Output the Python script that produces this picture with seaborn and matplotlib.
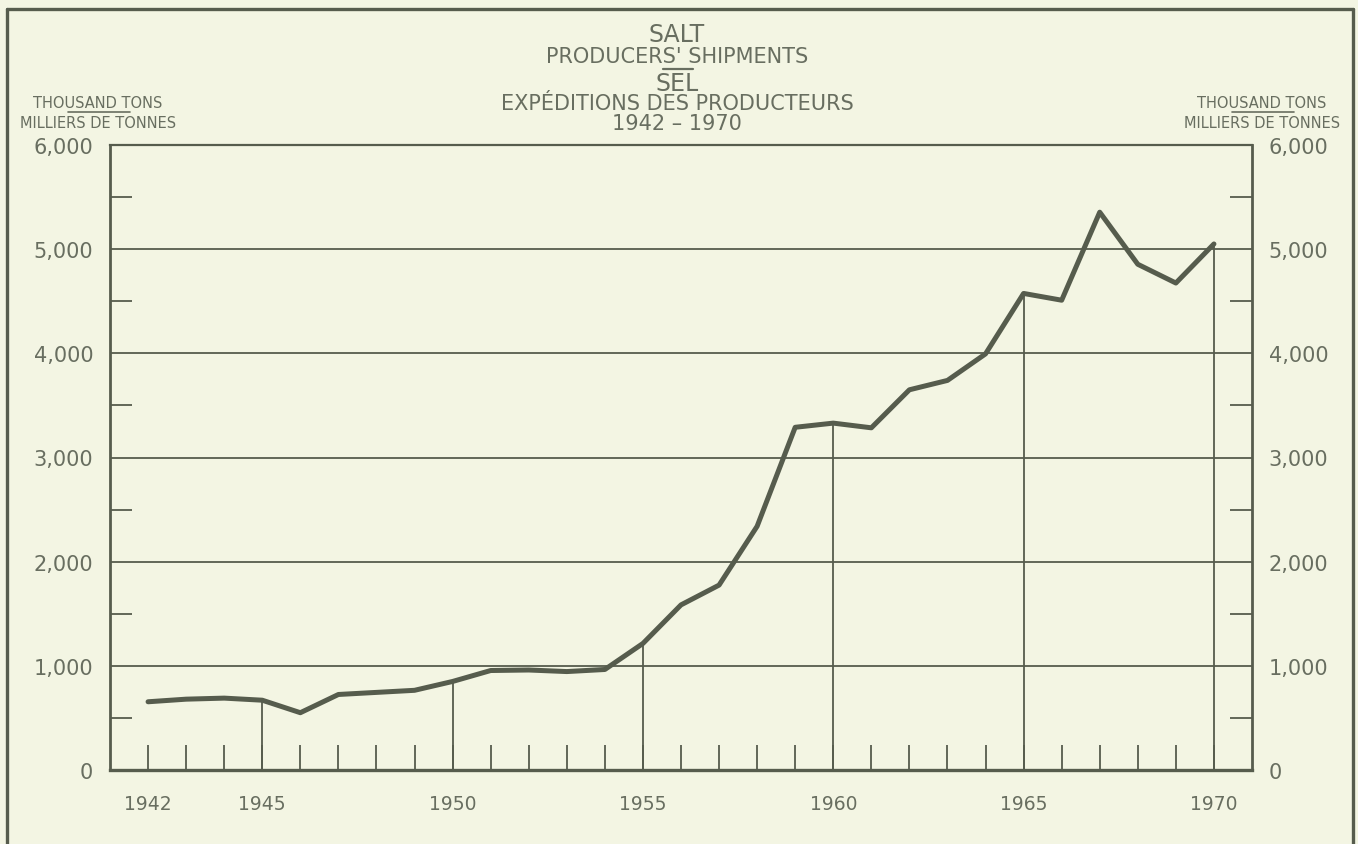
import matplotlib
matplotlib.use("Agg")
import matplotlib.pyplot as plt
import seaborn as sns
import pandas as pd
from matplotlib.ticker import FuncFormatter, MultipleLocator
from matplotlib.lines import Line2D

# -------------------------------
# Data (thousand tons)
# -------------------------------
years = list(range(1942, 1971))
shipments = [655, 680, 690, 670, 550, 725, 745, 765, 850, 955,
             960, 945, 965, 1215, 1585, 1775, 2340, 3290, 3330, 3285,
             3650, 3740, 3995, 4575, 4510, 5355, 4855, 4675, 5050]
year_labels = [1942, 1945, 1950, 1955, 1960, 1965, 1970]
y_ticks = [0, 1000, 2000, 3000, 4000, 5000, 6000]

df = pd.DataFrame({"year": years, "tons": shipments})

# -------------------------------
# Style
# -------------------------------
bg = "#f3f5e3"
ink = "#565c4d"
txt = "#686e60"

sns.set_style("white", {"axes.facecolor": bg, "figure.facecolor": bg})
plt.rcParams['font.family'] = ['DejaVu Sans']
plt.rcParams['text.color'] = txt

fig = plt.figure(figsize=(13.58, 8.45), dpi=100)
ax = fig.add_axes([110 / 1358, 74 / 845, 1142 / 1358, 625 / 845])

# gridlines at each thousand
for v in y_ticks[1:-1]:
    ax.axhline(v, color=ink, lw=1.3, zorder=1)

# drop lines every 5 years, up to the curve
for yr, v in zip(years, shipments):
    if yr in year_labels and yr != 1942:
        ax.vlines(yr, 0, v, color=ink, lw=1.3, zorder=1)

sns.lineplot(data=df, x="year", y="tons", color=ink, lw=3.6, ax=ax, zorder=3)

ax.set_xlim(1941.0, 1971.0)
ax.set_ylim(0, 6000)
ax.set_xlabel("")
ax.set_ylabel("")

for s in ax.spines.values():
    s.set_color(ink)
ax.spines['bottom'].set_linewidth(2.4)
ax.spines['left'].set_linewidth(2.0)
ax.spines['right'].set_linewidth(2.0)
ax.spines['top'].set_linewidth(1.6)

# x ticks: every year, labels only on some
ax.set_xticks(years)
ax.xaxis.set_major_formatter(FuncFormatter(lambda v, p: str(int(v)) if int(v) in year_labels else ""))
ax.tick_params(axis='x', bottom=True, direction='in', length=18, width=1.3, color=ink,
               labelsize=13.5, labelcolor=txt, pad=17)

# y ticks: labels at thousands, short ticks at the halves
ax.set_yticks(y_ticks)
ax.yaxis.set_minor_locator(MultipleLocator(500))
ax.yaxis.set_major_formatter(FuncFormatter(lambda v, p: f"{int(v):,}"))
ax.tick_params(axis='y', which='major', length=0, labelsize=15, labelcolor=txt,
               left=True, right=True, labelleft=True, labelright=True, pad=12)
ax.tick_params(axis='y', which='minor', direction='in', length=16, width=1.3, color=ink,
               left=True, right=True)

# -------------------------------
# Titles and unit headers
# -------------------------------
def fy(py):
    return 1 - py / 845

def fx(px):
    return px / 1358

tx = fx(677)
fig.text(tx, fy(35), "SALT", ha="center", va="center", fontsize=17)
fig.text(tx, fy(57), "PRODUCERS' SHIPMENTS", ha="center", va="center", fontsize=15)
fig.text(tx, fy(84), "SEL", ha="center", va="center", fontsize=17)
fig.text(tx, fy(104), "EXPÉDITIONS DES PRODUCTEURS", ha="center", va="center", fontsize=15)
fig.text(tx, fy(124), "1942 – 1970", ha="center", va="center", fontsize=15)
fig.add_artist(Line2D([fx(663), fx(693)], [fy(70), fy(70)], color=txt, lw=1.6))

for cx in (98, 1262):
    fig.text(fx(cx), fy(104), "THOUSAND TONS", ha="center", va="center", fontsize=10.5)
    fig.text(fx(cx), fy(124), "MILLIERS DE TONNES", ha="center", va="center", fontsize=10.5)
    fig.add_artist(Line2D([fx(cx - 30), fx(cx + 32)], [fy(113), fy(113)], color=txt, lw=1.2))

# outer frame
frame = dict(color=ink, lw=2.4)
fig.add_artist(Line2D([fx(7), fx(7)], [0, fy(10)], **frame))
fig.add_artist(Line2D([fx(7), fx(1353)], [fy(10), fy(10)], **frame))
fig.add_artist(Line2D([fx(1353), fx(1353)], [0, fy(10)], **frame))

fig.savefig("out.png", dpi=100, facecolor=bg)
